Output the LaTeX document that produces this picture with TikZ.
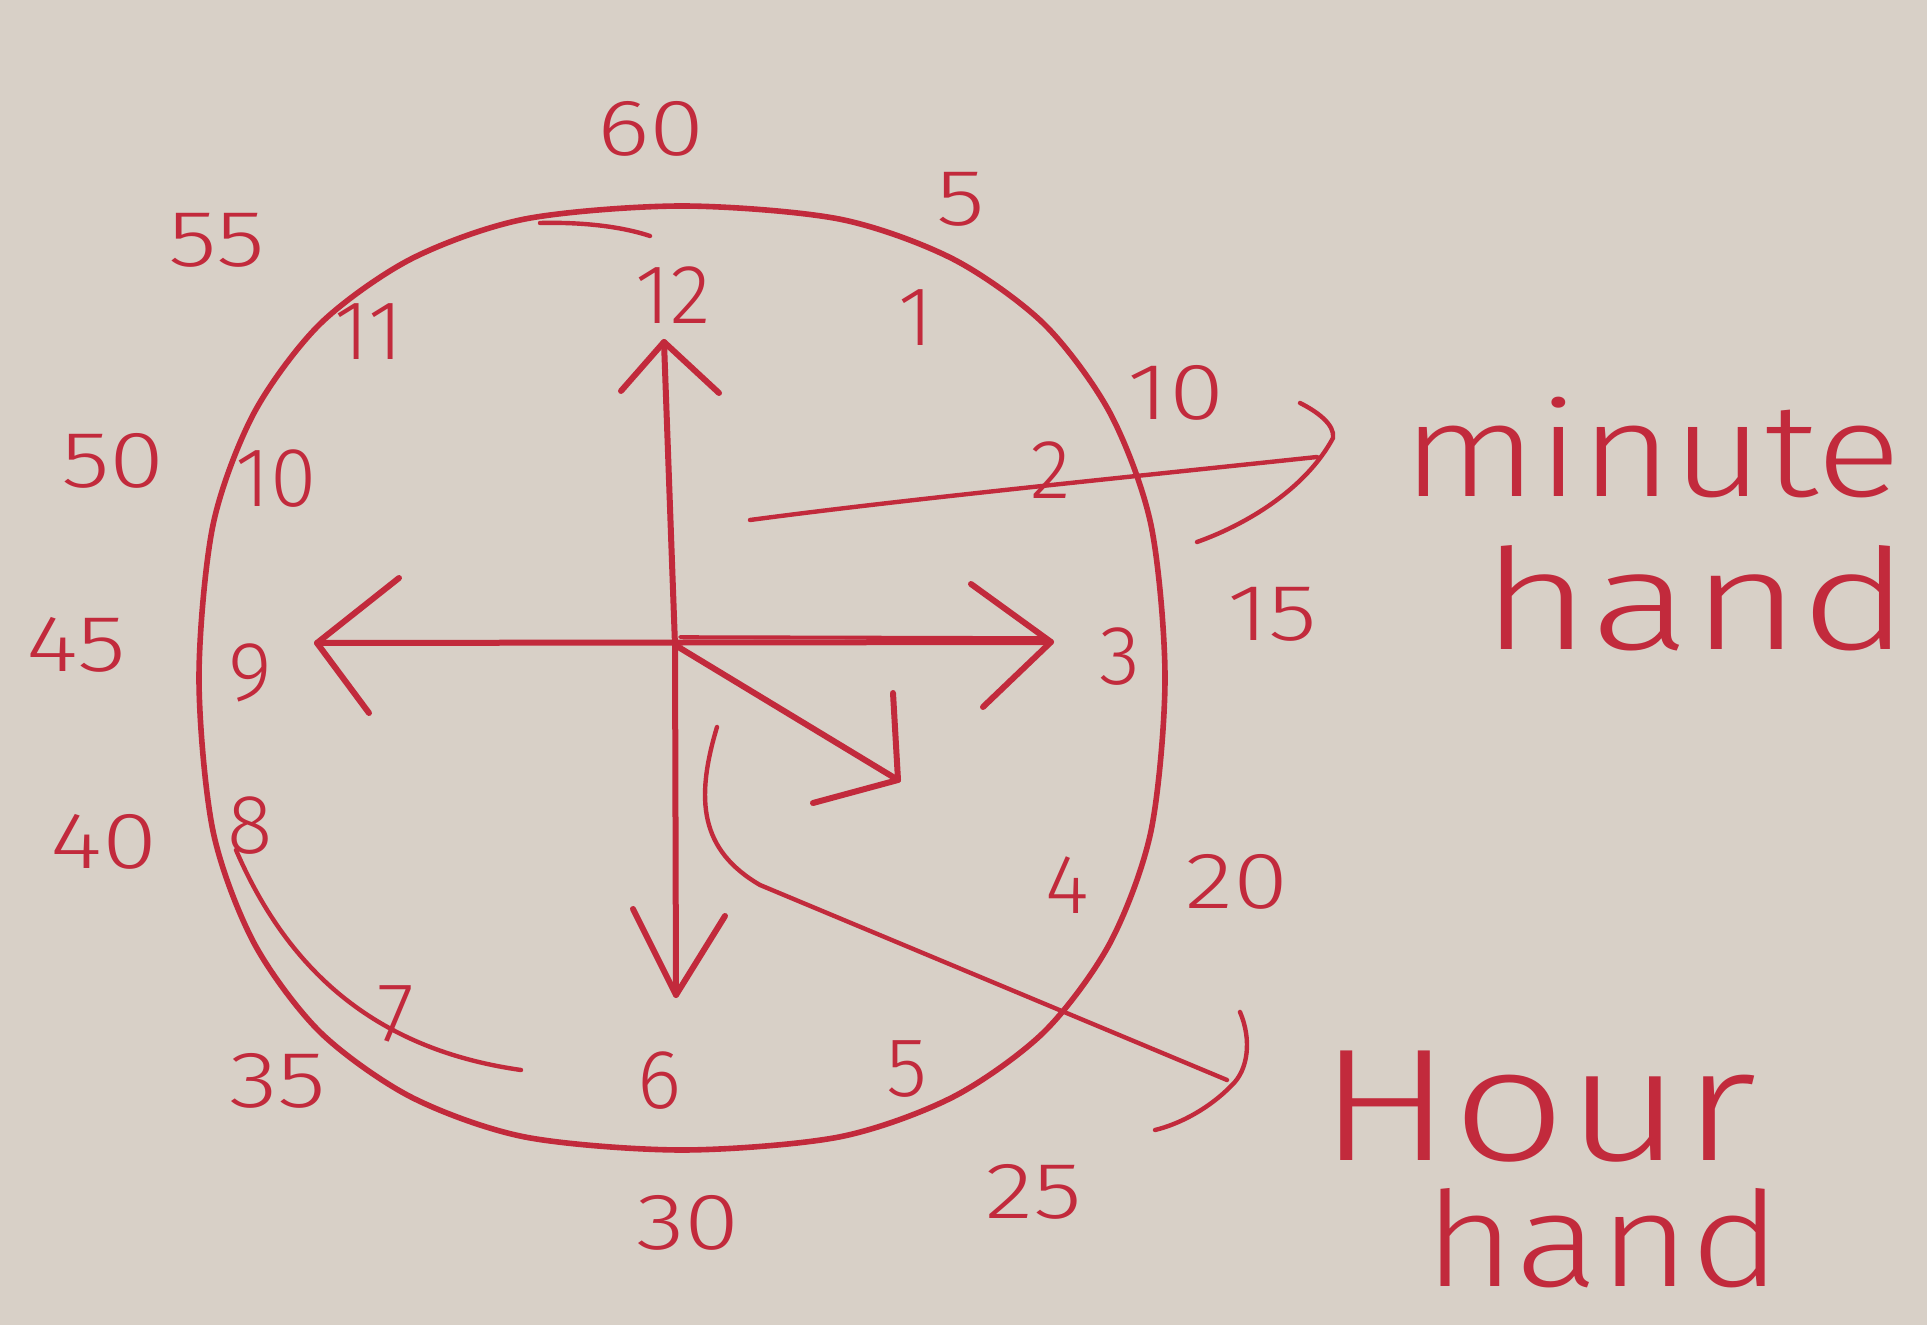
\documentclass[tikz,border=0pt]{standalone}
\usepackage{fontspec}
\setmainfont{Fira Sans Light}
\definecolor{paper}{RGB}{216,208,199}
\definecolor{ink}{RGB}{194,42,60}
\begin{document}
\begin{tikzpicture}[x=0.5pt,y=-0.5pt,
  inkline/.style={draw=ink, line width=3pt, line cap=round, line join=round},
  thinink/.style={draw=ink, line width=2.2pt, line cap=round, line join=round},
  num/.style={text=ink, font=\fontsize{42}{42}\selectfont, inner sep=0pt},
  outnum/.style={text=ink, font=\fontsize{40}{40}\selectfont, inner sep=0pt, xscale=1.25},
  lbl/.style={text=ink, inner sep=0pt, anchor=base}]
\fill[paper] (0,0) rectangle (1927,1325);
\useasboundingbox (0,0) rectangle (1927,1325);

% clock outline
\draw[thinink, line width=2.8pt] plot[smooth cycle, tension=0.5] coordinates {
  (1165,678) (1151,525) (1110,413) (1044,324) (953,259) (839,219)
  (682,206) (525,219) (411,259) (320,324) (254,413) (213,525)
  (199,678) (213,831) (254,943) (320,1032) (411,1097) (525,1137)
  (682,1150) (839,1137) (953,1097) (1044,1032) (1110,943) (1151,831)};
\draw[thinink] (236,850) .. controls (290,975) and (380,1050) .. (521,1070);
\draw[thinink] (540,223) .. controls (580,222) and (620,226) .. (650,236);

% hour numbers
\node[num] (h12) at (673,295) {12};
\node[num] (h1)  at (916,318) {1};
\node[num] (h2)  at (1051,470) {2};
\node[num] (h3)  at (1120,657) {3};
\node[num] (h4)  at (1067,885) {4};
\node[num] (h5)  at (907,1069) {5};
\node[num] (h6)  at (660,1081) {6};
\node[num] (h7)  at (396,1014) {7};
\node[num] (h8)  at (250,826) {8};
\node[num] (h9)  at (250,673) {9};
\node[num] (h10) at (276,479) {10};
\node[num] (h11) at (369,332) {11};

% minute numbers
\node[outnum] (m60) at (651,129) {60};
\node[outnum] (m5)  at (961,199) {5};
\node[outnum] (m10) at (1176,393) {10};
\node[outnum] (m15) at (1272,614) {15};
\node[outnum] (m20) at (1237,882) {20};
\node[outnum] (m25) at (1034,1192) {25};
\node[outnum] (m30) at (688,1223) {30};
\node[outnum] (m35) at (278,1081) {35};
\node[outnum] (m40) at (104,842) {40};
\node[outnum] (m45) at (76,645) {45};
\node[outnum] (m50) at (113,461) {50};
\node[outnum] (m55) at (217,240) {55};

% labels
\node[lbl, font=\fontsize{66}{66}\selectfont, xscale=1.2] (lmin) at (1652,497) {minute};
\node[lbl, font=\fontsize{70}{70}\selectfont, xscale=1.34] (lhand1) at (1696,650) {hand};
\node[lbl, font=\fontsize{80}{80}\selectfont, xscale=1.25] (lhour) at (1538,1160) {Hour};
\node[lbl, font=\fontsize{66}{66}\selectfont, xscale=1.18] (lhand2) at (1603,1286) {hand};

% hands
\coordinate (c) at (675,645);
\coordinate (up) at (664,342);
\coordinate (dn) at (676,995);
\coordinate (lt) at (317,643);
\coordinate (rt) at (1051,642);
\coordinate (dg) at (898,780);
\draw[inkline] (up) -- (c) -- (dn);
\draw[inkline] (lt) -- (rt);
\draw[inkline, line width=1.8pt] (680,637) -- (1045,638);
\draw[inkline] (c) -- (dg);
\draw[inkline] (621,391) -- (up) -- (719,393);
\draw[inkline] (633,909) -- (dn) -- (725,916);
\draw[inkline] (399,578) -- (lt) -- (369,713);
\draw[inkline] (971,584) -- (rt) -- (983,707);
\draw[inkline] (893,693) -- (dg) -- (813,803);

% minute-hand pointer
\coordinate (mp0) at (750,520);
\coordinate (mp1) at (1317,457);
\draw[thinink] (mp0) .. controls (900,500) and (1100,480) .. (mp1);
\draw[thinink] (1300,403) .. controls (1318,412) and (1335,425) .. (1333,438)
  .. controls (1305,490) and (1245,525) .. (1197,542);

% hour-hand pointer
\coordinate (hp0) at (717,727);
\coordinate (hp1) at (1227,1080);
\draw[thinink] (hp0) .. controls (695,800) and (700,850) .. (760,885) -- (hp1);
\draw[thinink] (1240,1012) .. controls (1252,1040) and (1248,1070) .. (1232,1085)
  .. controls (1210,1108) and (1180,1124) .. (1155,1130);
\end{tikzpicture}
\end{document}
